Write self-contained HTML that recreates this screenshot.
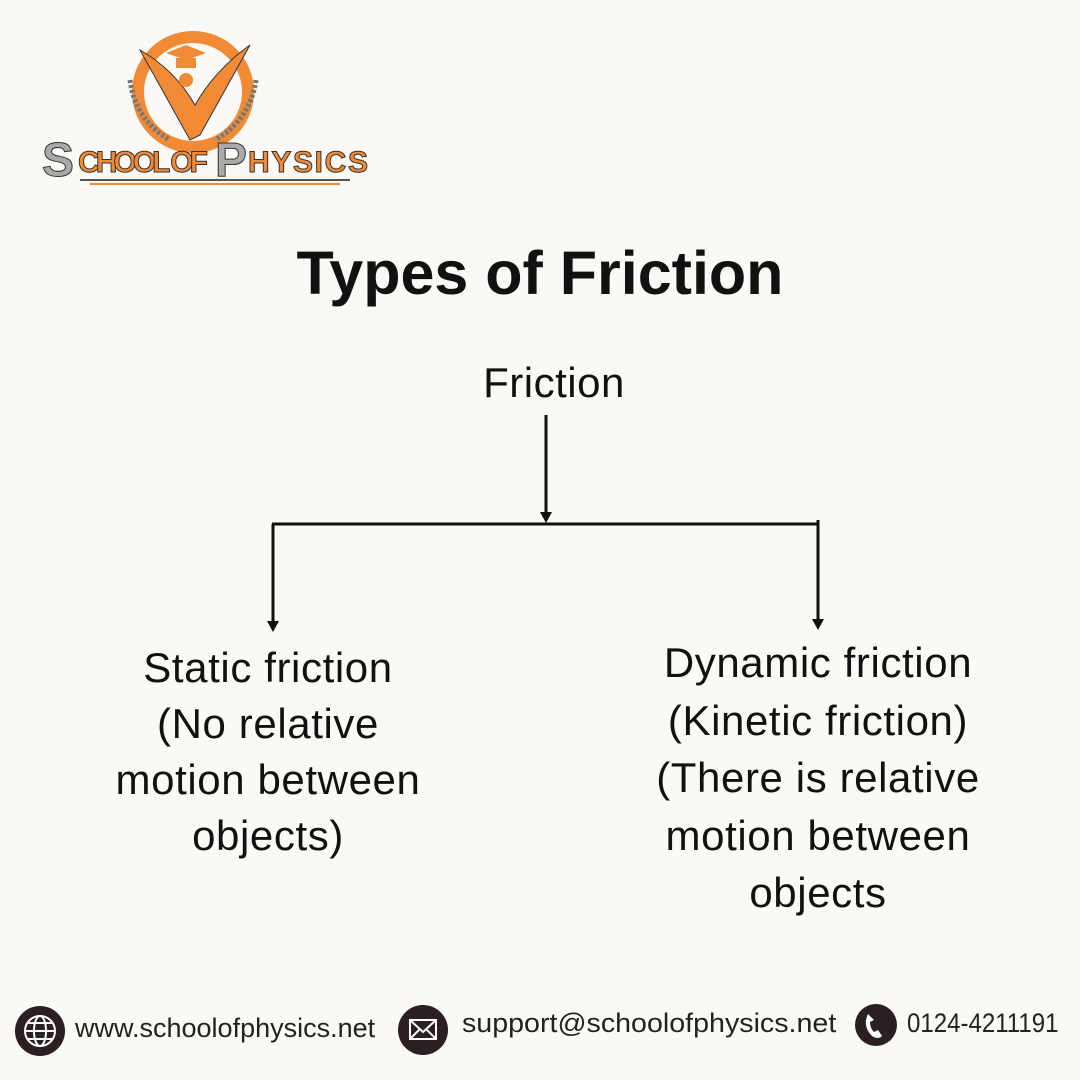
<!DOCTYPE html>
<html><head><meta charset="utf-8"><style>
body{margin:0;width:1080px;height:1080px;background:#fbf9f5;position:relative;overflow:hidden;font-family:"Liberation Sans",sans-serif;color:#111}
.t{position:absolute;white-space:nowrap;transform:translateX(-50%);text-align:center}
.f{position:absolute;font-size:27px;top:1013px;color:#222;transform-origin:left}
</style></head><body>
<svg width="1080" height="1080" style="position:absolute;left:0;top:0">
<circle cx="193" cy="92" r="55" fill="none" stroke="#f08a35" stroke-width="12"/>
<path d="M140 50 Q175 70 195 105 Q215 70 250 45 Q225 90 200 135 L190 140 Q165 95 140 50Z" fill="#f08a35" stroke="#333" stroke-width="1"/>
<circle cx="186" cy="80" r="7" fill="#f08a35"/>
<path d="M166 53 L186 45 L206 53 L186 60Z" fill="#f08a35"/>
<path d="M176 58 v10 h20 v-10" fill="#f08a35"/>
<path d="M130 80 Q135 120 170 140" fill="none" stroke="#777" stroke-width="5" stroke-dasharray="3 2"/>
<path d="M256 80 Q250 120 215 140" fill="none" stroke="#777" stroke-width="5" stroke-dasharray="3 2"/>
<text x="42" y="176" font-family="Liberation Sans" font-weight="bold" font-size="48" fill="#aaa" stroke="#333" stroke-width="1">S</text>
<text x="78" y="172" font-family="Liberation Sans" font-weight="bold" font-size="30" fill="#f08a35" stroke="#333" stroke-width="1" textLength="130">CHOOL OF</text>
<text x="215" y="176" font-family="Liberation Sans" font-weight="bold" font-size="48" fill="#aaa" stroke="#333" stroke-width="1">P</text>
<text x="248" y="172" font-family="Liberation Sans" font-weight="bold" font-size="30" fill="#f08a35" stroke="#333" stroke-width="1" textLength="120">HYSICS</text>
<line x1="80" y1="180" x2="350" y2="180" stroke="#555" stroke-width="2"/>
<line x1="90" y1="184" x2="340" y2="184" stroke="#f08a35" stroke-width="2"/>
<g stroke="#111" stroke-width="3" fill="none">
<line x1="546" y1="415" x2="546" y2="514"/>
<line x1="272" y1="524" x2="818" y2="524"/>
<line x1="273" y1="524" x2="273" y2="622"/>
<line x1="818" y1="520" x2="818" y2="620"/>
</g>
<g fill="#111">
<path d="M540 512 L552 512 L546 523Z"/>
<path d="M267 621 L279 621 L273 632Z"/>
<path d="M812 619 L824 619 L818 630Z"/>
</g>
<circle cx="40" cy="1031" r="25" fill="#2a1f22"/>
<circle cx="40" cy="1031" r="15" fill="none" stroke="#fff" stroke-width="2"/>
<ellipse cx="40" cy="1031" rx="6" ry="15" fill="none" stroke="#fff" stroke-width="2"/>
<line x1="25" y1="1031" x2="55" y2="1031" stroke="#fff" stroke-width="2"/>
<line x1="28" y1="1023" x2="52" y2="1023" stroke="#fff" stroke-width="2"/>
<line x1="28" y1="1039" x2="52" y2="1039" stroke="#fff" stroke-width="2"/>
<circle cx="423" cy="1030" r="25" fill="#2a1f22"/>
<rect x="410" y="1020" width="26" height="19" fill="none" stroke="#fff" stroke-width="2"/>
<path d="M410 1020 L423 1032 L436 1020 M410 1039 L420 1029 M436 1039 L426 1029" fill="none" stroke="#fff" stroke-width="2"/>
<circle cx="876" cy="1025" r="21" fill="#2a1f22"/>
<path d="M868 1014 q-6 12 4 22 q6 4 10 0 l-4 -6 l-4 2 q-4 -4 -4 -10 l4 -2Z" fill="#fff"/>
</svg>
<div class="t" style="left:540px;top:238px;font-size:61px;font-weight:bold">Types of Friction</div>
<div class="t" style="left:554px;top:359px;font-size:42px;letter-spacing:0.5px">Friction</div>
<div class="t" style="left:268px;top:640px;font-size:42px;letter-spacing:0.6px;line-height:56px">Static friction<br>(No relative<br>motion between<br>objects)</div>
<div class="t" style="left:818px;top:634px;font-size:42px;letter-spacing:0.6px;line-height:57.5px">Dynamic friction<br>(Kinetic friction)<br>(There is relative<br>motion between<br>objects</div>
<div class="f" style="left:75px;transform:scaleX(1.0)">www.schoolofphysics.net</div>
<div class="f" style="left:462px;top:1008px;transform:scaleX(1.06)">support@schoolofphysics.net</div>
<div class="f" style="left:907px;top:1008px;transform:scaleX(0.89)">0124-4211191</div>
</body></html>
